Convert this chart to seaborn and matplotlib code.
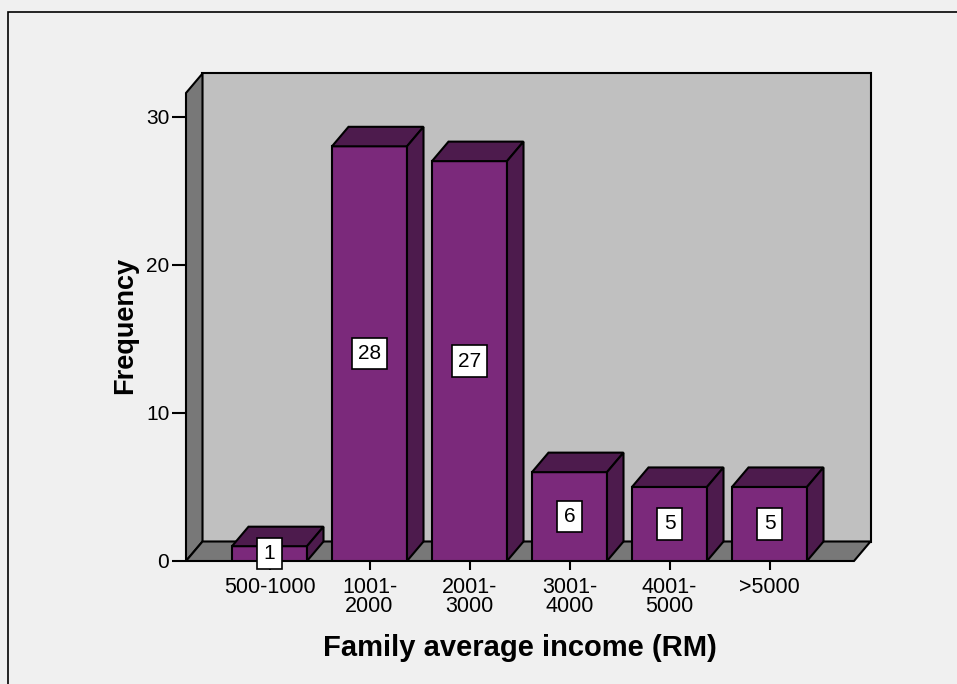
import matplotlib
matplotlib.use("Agg")
import matplotlib.pyplot as plt
import seaborn as sns
import pandas as pd
import numpy as np
from matplotlib.patches import Polygon, Rectangle

categories = ["500-1000", "1001-\n2000", "2001-\n3000", "3001-\n4000", "4001-\n5000", ">5000"]
frequency = [1, 28, 27, 6, 5, 5]
yticks = [0, 10, 20, 30]

BG = "#f0f0f0"
FRONT = "#7b297b"
DARK = "#4d1b4d"
WALL = "#c0c0c0"
SIDE = "#787878"
DX, DY = 16.5, 19.5  # depth offset in pixels

sns.set_theme(style="white")
plt.rcParams["font.family"] = ["Liberation Sans", "DejaVu Sans"]
plt.rcParams["text.color"] = "black"
plt.rcParams["axes.labelcolor"] = "black"

fig = plt.figure(figsize=(9.57, 6.84), dpi=100, facecolor=BG)
ax = fig.add_axes([186/957, 1-561/684, (854-186)/957, 468/684])
ax.set_facecolor("none")

df = pd.DataFrame({"cat": categories, "freq": frequency})
sns.barplot(data=df, x="cat", y="freq", color=FRONT, saturation=1, width=0.75,
            edgecolor="black", linewidth=1.5, ax=ax, zorder=5)

ax.set_xlim(-0.835, 5.845)
ax.set_ylim(0, 31.6)
for s in ax.spines.values():
    s.set_visible(False)

fig.canvas.draw()
tr = ax.transData
inv = tr.inverted()

def depth(x, y):
    px = tr.transform((x, y))
    return tuple(inv.transform((px[0] + DX, px[1] + DY)))

x0, x1 = ax.get_xlim()
y0, y1 = ax.get_ylim()

# back wall
bl = depth(x0, y0); tr_ = depth(x1, y1)
ax.add_patch(Polygon([bl, (tr_[0], bl[1]), tr_, (bl[0], tr_[1])], closed=True,
                     fc=WALL, ec="black", lw=1.5, zorder=1, clip_on=False))
# side wall
ax.add_patch(Polygon([(x0, y0), (x0, y1), depth(x0, y1), depth(x0, y0)], closed=True,
                     fc=SIDE, ec="black", lw=1.5, zorder=2, clip_on=False))
# floor
ax.add_patch(Polygon([(x0, y0), (x1, y0), depth(x1, y0), depth(x0, y0)], closed=True,
                     fc=SIDE, ec="black", lw=1.5, zorder=2, clip_on=False))

# 3D faces of bars and value labels
for p, v in zip(ax.patches[:len(frequency)], frequency):
    bx, bw, bh = p.get_x(), p.get_width(), p.get_height()
    top = [(bx, bh), (bx + bw, bh), depth(bx + bw, bh), depth(bx, bh)]
    side = [(bx + bw, 0), (bx + bw, bh), depth(bx + bw, bh), depth(bx + bw, 0)]
    ax.add_patch(Polygon(top, closed=True, fc=DARK, ec="black", lw=1.5, zorder=6, clip_on=False))
    ax.add_patch(Polygon(side, closed=True, fc=DARK, ec="black", lw=1.5, zorder=6, clip_on=False))
    ax.text(bx + bw/2, bh/2, str(v), ha="center", va="center", fontsize=15, zorder=8,
            color="black",
            bbox=dict(boxstyle="square,pad=0.3", fc="white", ec="black", lw=1.2))

ax.set_yticks(yticks)
ax.tick_params(axis="y", left=True, length=10, width=1.5, color="black",
               labelsize=15, pad=2, labelcolor="black")
ax.tick_params(axis="x", bottom=True, length=6.5, width=1.5, color="black",
               labelsize=15.5, pad=5, labelcolor="black")
for t in ax.get_xticklabels():
    t.set_linespacing(0.85)

ax.set_xlabel("Family average income (RM)", fontsize=21, fontweight="bold")
ax.set_ylabel("Frequency", fontsize=19.5, fontweight="bold")
ax.xaxis.set_label_coords(0.5, -0.186)
ax.xaxis.label.set_va("center")
ax.yaxis.set_label_coords(-0.0913, 0.504)
ax.yaxis.label.set_va("center")

# outer frame
fig.add_artist(Rectangle((8/957, -0.2), 1.5, 1.2 - 12/684, transform=fig.transFigure,
                         fill=False, ec="black", lw=1.2))

fig.savefig("out.png", dpi=100, facecolor=BG)
